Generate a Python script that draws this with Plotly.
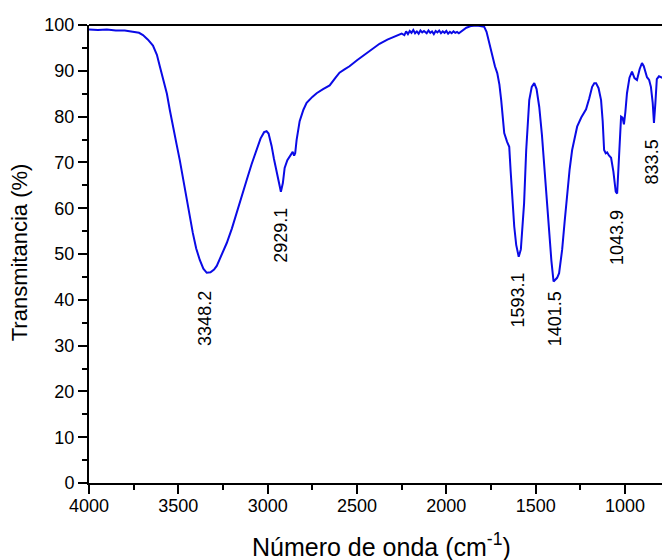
import plotly.graph_objects as go

wavenumber = [4000, 3950, 3900, 3850, 3800, 3760, 3720, 3698, 3670, 3642, 3620, 3603, 3580, 3564, 3548, 3531,
              3510, 3492, 3470, 3453, 3435, 3419, 3400, 3380, 3360, 3341, 3320, 3300, 3285, 3260, 3229, 3200,
              3173, 3145, 3117, 3090, 3062, 3040, 3020, 3006, 2995, 2978, 2965, 2950, 2935, 2926, 2915, 2905,
              2890, 2877, 2860, 2852, 2846, 2838, 2821, 2800, 2782, 2750, 2726, 2690, 2653, 2620, 2598, 2570,
              2542, 2500, 2469, 2420, 2374, 2330, 2279, 2250,
              2235, 2225, 2215, 2205, 2195, 2185, 2175, 2165, 2155, 2145, 2135, 2125, 2110, 2100, 2090, 2080,
              2070, 2060, 2050, 2040, 2030, 2020, 2010, 2000, 1990, 1980, 1970, 1960, 1950, 1940, 1930, 1915,
              1900, 1888, 1860, 1832, 1810, 1788, 1775, 1760, 1743, 1728, 1715, 1703, 1693, 1684, 1676, 1660,
              1648, 1640, 1631, 1620, 1609, 1595, 1583, 1575, 1565, 1553, 1545, 1536, 1522, 1508, 1495, 1480,
              1465, 1452, 1438, 1425, 1412, 1400, 1390, 1380, 1369, 1360, 1352, 1338, 1324, 1310, 1296, 1280,
              1268, 1245, 1218, 1200, 1184, 1172, 1162, 1148, 1134, 1125, 1117, 1108, 1100, 1090, 1078, 1065,
              1052, 1044, 1034, 1022, 1014, 1006, 998, 989, 975, 961, 947, 933, 918, 905, 895, 885,
              877, 865, 855, 845, 838, 830, 822, 810, 799, 785]
transmittance = [99.0, 98.9, 99.0, 98.8, 98.8, 98.6, 98.3, 97.8, 96.8, 95.5, 93.5, 90.9, 87.5, 85.0, 81.5, 77.8,
                 74.0, 70.5, 65.5, 61.8, 58.0, 54.6, 51.2, 48.7, 46.8, 45.9, 46.0, 46.6, 47.4, 49.5, 52.4, 55.6,
                 58.9, 62.6, 66.2, 69.6, 72.7, 75.2, 76.6, 76.8, 76.3, 73.6, 70.8, 67.7, 64.6, 63.6, 65.5, 68.8,
                 70.5, 71.3, 72.3, 71.5, 72.0, 74.9, 79.0, 81.5, 83.0, 84.3, 85.1, 86.0, 86.8, 88.5, 89.6, 90.3,
                 91.0, 92.3, 93.2, 94.6, 95.9, 96.8, 97.7, 98.1,
                 97.8, 98.6, 98.0, 98.7, 98.3, 98.9, 98.2, 98.6, 98.1, 98.8, 98.4, 98.7, 98.2, 98.8, 98.3, 98.6,
                 98.0, 98.7, 98.4, 98.8, 98.2, 98.6, 98.3, 98.7, 98.1, 98.5, 98.2, 98.6, 98.3, 98.5, 98.2, 98.6,
                 98.9, 99.4, 99.8, 99.9, 99.8, 99.6, 98.5, 96.0, 93.0, 91.0, 89.5, 87.0, 83.6, 79.5, 76.4, 74.5,
                 73.4, 68.0, 61.8, 56.0, 52.0, 49.4, 51.0, 54.6, 61.0, 72.7, 79.0, 83.6, 86.5, 87.3, 86.0, 82.1,
                 76.0, 69.0, 61.5, 54.6, 48.5, 44.0, 44.3, 44.8, 45.8, 48.0, 50.9, 57.0, 63.3, 68.5, 72.7, 76.0,
                 77.8, 79.8, 81.6, 84.0, 86.5, 87.3, 87.3, 86.2, 83.6, 79.0, 72.7, 72.0, 72.2, 71.5, 71.0, 68.0,
                 63.6, 63.2, 72.0, 80.0, 79.8, 78.3, 81.0, 85.1, 88.5, 89.8, 88.4, 88.0, 90.4, 91.7, 91.0, 89.5,
                 88.6, 88.0, 86.5, 83.0, 78.6, 83.0, 88.2, 88.8, 88.6, 88.4]

peak_labels = ["3348.2", "2929.1", "1593.1", "1401.5", "1043.9", "833.5"]
peak_label_x = [3352, 2922, 1600, 1391, 1045, 852]
peak_label_y = [36.0, 54.1, 40.0, 35.8, 53.7, 70.1]

x_ticks = [4000, 3500, 3000, 2500, 2000, 1500, 1000]
y_ticks = [0, 10, 20, 30, 40, 50, 60, 70, 80, 90, 100]

FONT = "Liberation Sans, Arial, sans-serif"

fig = go.Figure()
fig.add_trace(go.Scatter(x=wavenumber, y=transmittance, mode="lines",
                         line=dict(color="#0a0ae6", width=2), showlegend=False))

for txt, xv, yv in zip(peak_labels, peak_label_x, peak_label_y):
    fig.add_annotation(x=xv, y=yv, text=txt, textangle=-90, showarrow=False,
                       xanchor="center", yanchor="middle",
                       font=dict(family=FONT, size=18, color="black"))

fig.add_annotation(x=-0.121, y=0.503, xref="paper", yref="paper", text="Transmitancia (%)",
                   textangle=-90, showarrow=False, xanchor="center", yanchor="middle",
                   font=dict(family=FONT, size=22, color="black"))
fig.add_annotation(x=0.51, y=-0.135, xref="paper", yref="paper",
                   text="Número de onda (cm<sup>-1</sup>)",
                   showarrow=False, xanchor="center", yanchor="middle",
                   font=dict(family=FONT, size=25, color="black"))

fig.add_shape(type="line", xref="paper", yref="paper", x0=0, x1=1, y0=1, y1=1,
              line=dict(color="black", width=2))

fig.update_xaxes(range=[4000, 793], tickvals=x_ticks, ticktext=[str(v) for v in x_ticks],
                 showgrid=False, zeroline=False, showline=True, linecolor="black", linewidth=2,
                 ticks="outside", ticklen=9, tickwidth=2, tickcolor="black",
                 ticklabelstandoff=-4,
                 minor=dict(dtick=250, tick0=0, ticks="outside", ticklen=5, tickwidth=2, tickcolor="black"),
                 tickfont=dict(family=FONT, size=18, color="black"))
fig.update_yaxes(range=[0, 100], tickvals=y_ticks, ticktext=[str(v) for v in y_ticks],
                 showgrid=False, zeroline=False, showline=True, linecolor="black", linewidth=2,
                 ticks="outside", ticklen=9, tickwidth=2, tickcolor="black",
                 minor=dict(dtick=5, tick0=0, ticks="outside", ticklen=5, tickwidth=2, tickcolor="black"),
                 tickfont=dict(family=FONT, size=18, color="black"))

fig.update_layout(width=662, height=560, margin=dict(l=89, r=0, t=25, b=77),
                  plot_bgcolor="white", paper_bgcolor="white")

# remove the page's default body margin and scrollbars so the figure fills the window exactly
fig.write_html("out.html", config={"displayModeBar": False},
               post_script="document.body.style.margin='0';document.body.style.overflow='hidden';")
